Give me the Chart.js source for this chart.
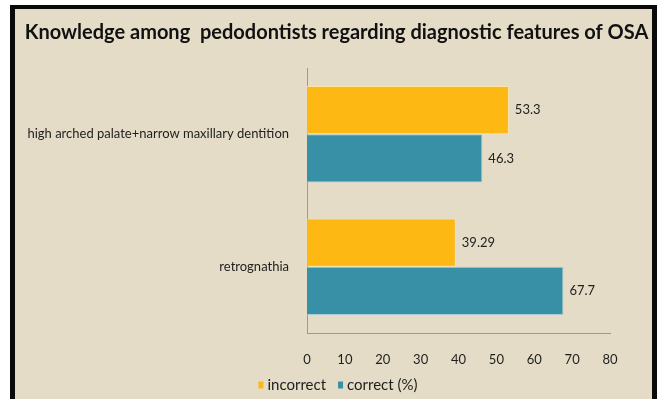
<!DOCTYPE html>
<html>
<head>
<meta charset="utf-8">
<script src="https://cdn.jsdelivr.net/npm/chart.js@4.4.1/dist/chart.umd.min.js"></script>
<style>
  html, body { margin: 0; padding: 0; background: #ffffff; }
  #wrap { width: 661px; height: 399px; position: relative; }
</style>
</head>
<body>
<div id="wrap"><canvas id="c" width="661" height="399"></canvas></div>
<script>
const categories = ["high arched palate+narrow maxillary dentition", "retrognathia"];
const incorrectValues = [53.3, 39.29];
const correctValues = [46.3, 67.7];
const seriesNames = ["incorrect", "correct (%)"];
const titleText = "Knowledge among  pedodontists regarding diagnostic features of OSA";

const BG = "#E4DCC7";
const FONT = "Lato, 'DejaVu Sans', sans-serif";

const framePlugin = {
  id: "frame",
  beforeDraw(chart) {
    const ctx = chart.ctx;
    ctx.save();
    ctx.fillStyle = "#ffffff";
    ctx.fillRect(0, 0, chart.width, chart.height);
    ctx.fillStyle = "#0a0a0a";
    ctx.fillRect(10, 5, 647, chart.height);
    ctx.fillStyle = BG;
    ctx.fillRect(15, 9, 637, chart.height);
    // title
    ctx.font = "bold 20px " + FONT;
    ctx.fillStyle = "#111111";
    ctx.textAlign = "center";
    ctx.textBaseline = "middle";
    ctx.fillText(titleText, 336.5, 33, 629);
    ctx.restore();
  }
};

const legendPlugin = {
  id: "customLegend",
  afterDraw(chart) {
    const ctx = chart.ctx;
    ctx.save();
    ctx.font = "15px " + FONT;
    ctx.textBaseline = "middle";
    ctx.textAlign = "left";
    const boxW = 5, boxH = 7, gap = 4, itemGap = 12;
    const items = chart.data.datasets.map(ds => ({ label: ds.label, color: ds.backgroundColor }));
    let total = 0;
    items.forEach((it, i) => {
      it.w = ctx.measureText(it.label).width;
      total += boxW + gap + it.w + (i < items.length - 1 ? itemGap : 0);
    });
    let x = 338 - total / 2;
    const cy = 385;
    items.forEach(it => {
      ctx.fillStyle = it.color;
      ctx.fillRect(x, cy - boxH / 2, boxW, boxH);
      x += boxW + gap;
      ctx.fillStyle = "#1e1e1e";
      ctx.fillText(it.label, x, cy);
      x += it.w + itemGap;
    });
    ctx.restore();
  }
};

const valueLabelPlugin = {
  id: "valueLabels",
  afterDatasetsDraw(chart) {
    const ctx = chart.ctx;
    ctx.save();
    ctx.font = "13px " + FONT;
    ctx.fillStyle = "#222222";
    ctx.textAlign = "left";
    ctx.textBaseline = "middle";
    chart.data.datasets.forEach((ds, i) => {
      const meta = chart.getDatasetMeta(i);
      meta.data.forEach((bar, j) => {
        ctx.fillText(String(ds.data[j]), bar.x + 6, bar.y);
      });
    });
    ctx.restore();
  }
};

new Chart(document.getElementById("c"), {
  type: "bar",
  data: {
    labels: categories,
    datasets: [
      {
        label: seriesNames[0],
        data: incorrectValues,
        backgroundColor: "#FDB813",
        borderColor: "rgba(255,230,150,0.8)",
        borderWidth: 1,
        barPercentage: 1.0,
        categoryPercentage: 0.73
      },
      {
        label: seriesNames[1],
        data: correctValues,
        backgroundColor: "#3890A6",
        borderColor: "rgba(150,200,215,0.8)",
        borderWidth: 1,
        barPercentage: 1.0,
        categoryPercentage: 0.73
      }
    ]
  },
  options: {
    indexAxis: "y",
    responsive: false,
    animation: false,
    devicePixelRatio: 1,
    layout: { padding: { left: 15, right: 51, top: 68, bottom: 31 } },
    plugins: {
      title: { display: false },
      legend: { display: false },
      tooltip: { enabled: false }
    },
    scales: {
      x: {
        min: 0,
        max: 80,
        ticks: {
          stepSize: 10,
          color: "#1e1e1e",
          padding: 11,
          font: { family: FONT, size: 13 }
        },
        grid: { display: false },
        border: { display: true, color: "#9a9a9a", width: 1 },
        afterFit(scale) { scale.height = 35; }
      },
      y: {
        ticks: {
          color: "#1e1e1e",
          padding: 10,
          font: { family: FONT, size: 13 }
        },
        grid: { display: false },
        border: { display: true, color: "#9a9a9a", width: 1 },
        afterFit(scale) { scale.width = 292; }
      }
    }
  },
  plugins: [framePlugin, valueLabelPlugin, legendPlugin]
});
</script>
</body>
</html>
